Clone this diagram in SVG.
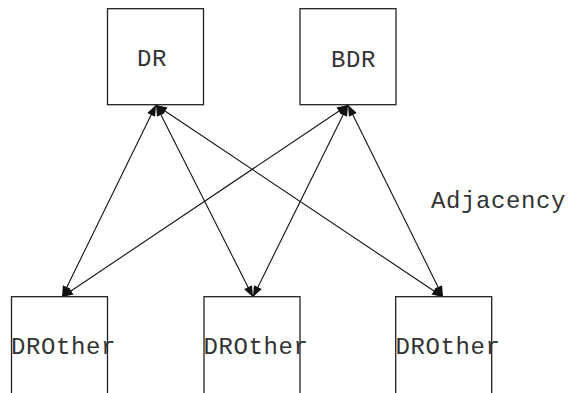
<svg xmlns="http://www.w3.org/2000/svg" width="571" height="393" viewBox="0 0 571 393">
  <style>
    .box { fill: #ffffff; stroke: #222222; stroke-width: 1.3; }
    .lbl { font-family: "Liberation Mono", "Courier New", monospace; font-size: 24px; letter-spacing: 0.6px; fill: #333333; }
    .link { stroke: #111111; stroke-width: 1.1; fill: none; marker-start: url(#head); marker-end: url(#head); }
  </style>
  <defs>
    <marker id="head" viewBox="0 0 10 8" refX="10" refY="4" markerWidth="11" markerHeight="9" markerUnits="userSpaceOnUse" orient="auto-start-reverse">
      <path d="M0,0 L10,4 L0,8 Z" fill="#111111"/>
    </marker>
  </defs>
  <rect width="571" height="393" fill="#ffffff"/>

  <g id="connectors">
    <line class="link" x1="156" y1="105" x2="62" y2="297"/>
    <line class="link" x1="156" y1="105" x2="253" y2="297"/>
    <line class="link" x1="156" y1="105" x2="443" y2="297"/>
    <line class="link" x1="348" y1="105" x2="62" y2="297"/>
    <line class="link" x1="348" y1="105" x2="253" y2="297"/>
    <line class="link" x1="348" y1="105" x2="443" y2="297"/>
  </g>

  <g id="dr">
    <rect class="box" x="107.5" y="8.7" width="96" height="96"/>
    <text class="lbl" x="137" y="66">DR</text>
  </g>
  <g id="bdr">
    <rect class="box" x="300" y="8.7" width="96" height="96"/>
    <text class="lbl" x="331" y="67">BDR</text>
  </g>
  <g id="drother-1">
    <rect class="box" x="11.5" y="296.7" width="96" height="100"/>
    <text class="lbl" x="11" y="354">DROther</text>
  </g>
  <g id="drother-2">
    <rect class="box" x="204" y="296.7" width="96" height="100"/>
    <text class="lbl" x="203.5" y="354">DROther</text>
  </g>
  <g id="drother-3">
    <rect class="box" x="395.7" y="296.7" width="96" height="100"/>
    <text class="lbl" x="395.5" y="354">DROther</text>
  </g>
  <g id="adjacency-label">
    <text class="lbl" x="431" y="208">Adjacency</text>
  </g>
</svg>
